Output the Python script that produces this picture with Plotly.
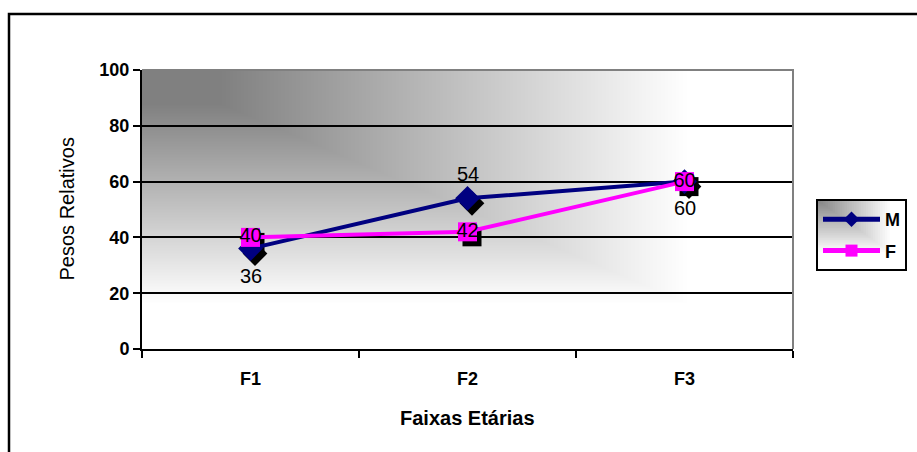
import base64
import struct
import zlib

import numpy as np
import plotly.graph_objects as go

# ---- data -------------------------------------------------------------
categories = ["F1", "F2", "F3"]
m_values = [36, 54, 60]
f_values = [40, 42, 60]
m_label_shift = [-27, 24, -26]   # M labels: below, above, below the marker
y_ticks = [0, 20, 40, 60, 80, 100]

# ---- page geometry ----------------------------------------------------
W, H = 917, 452
ML, MR, MT, MB = 142, 5, 70, 103
PLOT_R = 793                      # right edge of the plotting area (px)
PAPER_W = W - ML - MR
PW = PLOT_R - ML
PH = H - MT - MB
FONT = "Arial, Liberation Sans, sans-serif"

# legend box (px)
LG_L, LG_T, LG_R, LG_B = 816, 199, 911, 267


def px_x(px):
    """Horizontal page pixel -> paper fraction."""
    return (px - ML) / PAPER_W


def px_y(py):
    """Vertical page pixel -> paper fraction."""
    return (H - MB - py) / PH


def corner_level(t_raw, dark=128, start=0.12, span=0.72):
    t = np.clip((t_raw - start) / span, 0, 1)
    return np.round(dark + (255 - dark) * t).astype(np.uint8)


def corner_gradient(w, h, **kw):
    """Grey levels: dark in the top-left corner fading to white."""
    u = np.linspace(0, 1, w)[None, :]
    v = np.linspace(0, 1, h)[:, None]
    return corner_level(np.maximum(u, v), **kw)


def png_uri(gray):
    """Encode a 2-D uint8 grey array as a PNG data URI."""
    h, w = gray.shape
    rgb = np.repeat(gray[:, :, None], 3, axis=2)
    raw = b"".join(b"\x00" + rgb[r].tobytes() for r in range(h))

    def chunk(tag, data):
        body = tag + data
        return (struct.pack(">I", len(data)) + body
                + struct.pack(">I", zlib.crc32(body) & 0xFFFFFFFF))

    png = (b"\x89PNG\r\n\x1a\n"
           + chunk(b"IHDR", struct.pack(">IIBBBBB", w, h, 8, 2, 0, 0, 0))
           + chunk(b"IDAT", zlib.compress(raw, 9))
           + chunk(b"IEND", b""))
    return "data:image/png;base64," + base64.b64encode(png).decode()


x_idx = list(range(len(categories)))

# drop-shadow offset for the markers (a few pixels right and down)
sdx = 4.5 * len(categories) / PW
sdy = -5.0 * 100 / PH

M_COLOR = "#000080"
F_COLOR = "#FF00FF"
M_SIZE = 19
F_SIZE = 19

fig = go.Figure()

fig.add_trace(go.Scatter(
    x=[i + sdx for i in x_idx], y=[v + sdy for v in m_values],
    mode="markers", marker=dict(symbol="diamond", size=M_SIZE, color="black"),
    showlegend=False, hoverinfo="skip"))
fig.add_trace(go.Scatter(
    x=[i + sdx for i in x_idx], y=[v + sdy for v in f_values],
    mode="markers", marker=dict(symbol="square", size=F_SIZE, color="black"),
    showlegend=False, hoverinfo="skip"))

fig.add_trace(go.Scatter(
    x=x_idx, y=m_values, name="M", legendgroup="M",
    mode="lines+markers",
    line=dict(color=M_COLOR, width=4),
    marker=dict(symbol="diamond", size=M_SIZE, color=M_COLOR)))
fig.add_trace(go.Scatter(
    x=x_idx, y=f_values, name="F", legendgroup="F",
    mode="lines+markers+text",
    line=dict(color=F_COLOR, width=4),
    marker=dict(symbol="square", size=F_SIZE, color=F_COLOR),
    text=[str(v) for v in f_values], textposition="middle center",
    textfont=dict(family=FONT, size=20, color="black")))

annotations = [
    dict(text="Faixas Etárias", xref="paper", yref="paper",
         x=px_x((ML + PLOT_R) / 2), y=px_y(418),
         xanchor="center", yanchor="middle", showarrow=False,
         font=dict(family=FONT, size=20, color="black", weight="bold")),
    dict(text="Pesos Relativos", xref="paper", yref="paper",
         x=px_x(66), y=0.5, xanchor="center", yanchor="middle",
         textangle=-90, showarrow=False,
         font=dict(family=FONT, size=20, color="black")),
]
# value labels of the M series
for i, v, sh in zip(x_idx, m_values, m_label_shift):
    annotations.append(dict(
        text=str(v), x=i, y=v, xref="x", yref="y", yshift=sh,
        xanchor="center", yanchor="middle", showarrow=False,
        font=dict(family=FONT, size=20, color="black")))

shapes = [
    # outer chart frame
    dict(type="rect", xref="paper", yref="paper",
         x0=px_x(9), x1=px_x(W + 20), y0=px_y(H + 20), y1=px_y(14),
         line=dict(color="black", width=2.5), layer="below"),
    # grey top and right edges of the plot area
    dict(type="path", xref="x domain", yref="y domain",
         path="M 0,1 L 1,1 L 1,0",
         line=dict(color="#808080", width=2), layer="above"),
]

# shaded legend box: nested rectangles anchored at its top-left corner
lw, lh = LG_R - LG_L, LG_B - LG_T
for s in np.linspace(1.0, 0.0, 40, endpoint=False):
    g = int(corner_level(np.array(s), start=0.0, span=0.8))
    shapes.append(dict(
        type="rect", xref="paper", yref="paper",
        x0=px_x(LG_L), x1=px_x(LG_L + s * lw),
        y0=px_y(LG_T + s * lh), y1=px_y(LG_T),
        line=dict(width=0), fillcolor=f"rgb({g},{g},{g})", layer="above"))

fig.update_layout(
    width=W, height=H,
    margin=dict(l=ML, r=MR, t=MT, b=MB, autoexpand=False),
    paper_bgcolor="white",
    plot_bgcolor="rgba(0,0,0,0)",
    font=dict(family=FONT, color="black"),
    showlegend=True,
    legend=dict(
        x=px_x(LG_L), y=px_y(LG_T), xanchor="left", yanchor="top",
        bgcolor="rgba(0,0,0,0)", bordercolor="black", borderwidth=2,
        font=dict(family=FONT, size=18, color="black", weight="bold"),
        traceorder="grouped", tracegroupgap=5, itemwidth=57,
        itemsizing="constant",
    ),
    xaxis=dict(
        domain=[0, PW / PAPER_W],
        range=[-0.5, len(categories) - 0.5],
        tickmode="array", tickvals=x_idx, ticktext=categories,
        ticks="outside", ticklen=12, tickcolor="rgba(0,0,0,0)",
        tickfont=dict(family=FONT, size=18, color="black", weight="bold"),
        showline=True, linecolor="black", linewidth=2,
        showgrid=False, zeroline=False, fixedrange=True,
        minor=dict(tickmode="array",
                   tickvals=[i - 0.5 for i in range(len(categories) + 1)],
                   ticks="outside", ticklen=7, tickwidth=2,
                   tickcolor="black", showgrid=False),
    ),
    yaxis=dict(
        range=[0, 100], tickmode="array", tickvals=y_ticks,
        ticks="outside", ticklen=7, tickwidth=2, tickcolor="black",
        tickfont=dict(family=FONT, size=18, color="black", weight="bold"),
        showline=True, linecolor="black", linewidth=2,
        showgrid=True, gridcolor="black", gridwidth=2,
        zeroline=False, fixedrange=True,
    ),
    images=[
        dict(source=png_uri(corner_gradient(PW, PH)),
             xref="paper", yref="paper",
             x=0, y=1, sizex=PW / PAPER_W, sizey=1,
             xanchor="left", yanchor="top", sizing="stretch", layer="below"),
    ],
    shapes=shapes,
    annotations=annotations,
)

fig.write_html("out.html")
